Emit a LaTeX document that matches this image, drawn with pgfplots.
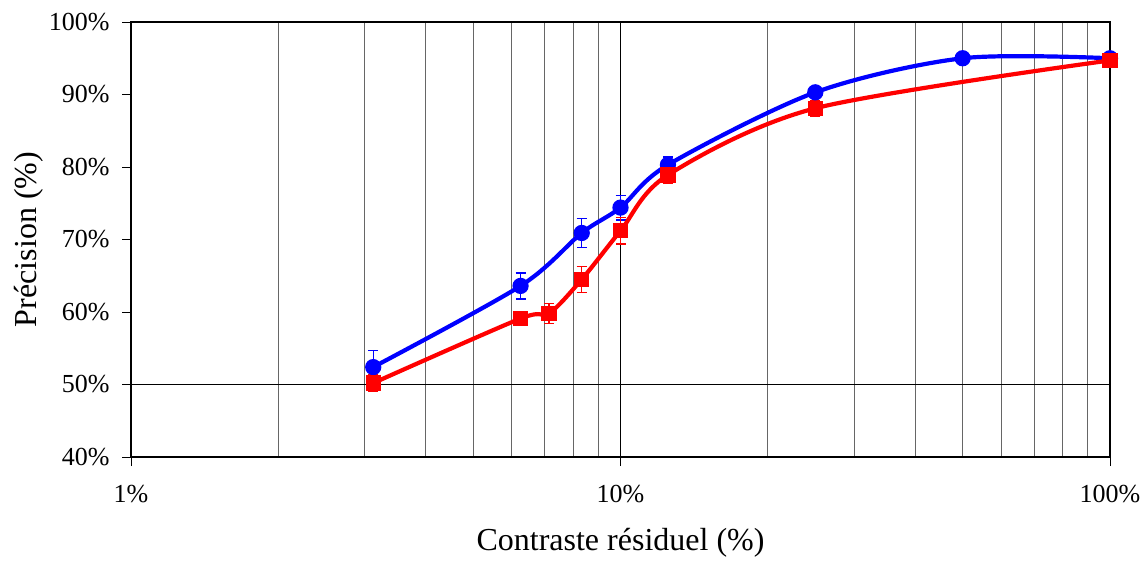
\documentclass[border=0pt]{standalone}
\usepackage{pgfplots}
\pgfplotsset{compat=1.18}
\usepackage{fontspec}
\setmainfont{Liberation Serif}
\begin{document}
\begin{tikzpicture}
\useasboundingbox (-131pt,-103pt) rectangle (1012pt,457pt);
\begin{axis}[
  at={(0,0)}, anchor=south west,
  scale only axis, width=979pt, height=435pt,
  xmode=log, xmin=1, xmax=100, ymin=40, ymax=100,
  xtick={1,10,100}, xticklabels={1\%,10\%,100\%},
  ytick={40,50,60,70,80,90,100},
  yticklabels={40\%,50\%,60\%,70\%,80\%,90\%,100\%},
  tick align=outside, major tick length=9pt, minor tick length=0pt,
  xtick pos=bottom, ytick pos=left,
  xmajorgrids, xminorgrids,
  major grid style={black, line width=0.9pt},
  minor grid style={gray!80!black, line width=0.9pt},
  axis line style={black, line width=1.2pt},
  tick style={black, line width=0.8pt},
  extra y ticks={50}, extra y tick labels={},
  extra y tick style={grid=major, major tick length=0pt},
  /pgf/number format/assume math mode=true,
  ticklabel style={font=\fontsize{26}{28}\selectfont},
  yticklabel style={xshift=-9pt},
  xticklabel style={yshift=-16pt},
  label style={font=\fontsize{32}{36}\selectfont},
  xlabel={Contraste résiduel (\%)},
  ylabel={Précision (\%)},
  xlabel style={at={(axis description cs:0.5,-0.198)}, anchor=center},
  ylabel style={at={(axis description cs:-0.104,0.5)}, anchor=center},
  clip=false,
]
\addplot[blue, line width=4.2pt, smooth, tension=0.5,
  mark=*, mark size=6pt, mark options={solid},
  error bars/.cd, y dir=both, y explicit,
  error bar style={blue, line width=1.3pt},
  error mark options={rotate=90, mark size=5pt, line width=1.3pt, blue}]
coordinates {
 (3.125,52.4) +- (0,2.3)
 (6.25,63.6) +- (0,1.8)
 (8.333,70.9) +- (0,2.0)
 (10,74.4) +- (0,1.7)
 (12.5,80.3) +- (0,1.1)
 (25,90.3) +- (0,0.4)
 (50,95.0) +- (0,0.3)
 (100,95.0) +- (0,0.2)
};
\addplot[red, line width=4.2pt, smooth, tension=0.5,
  mark=square*, mark size=5.5pt, mark options={solid},
  error bars/.cd, y dir=both, y explicit,
  error bar style={red, line width=1.3pt},
  error mark options={rotate=90, mark size=5pt, line width=1.3pt, red}]
coordinates {
 (3.125,50.2) +- (0,1.2)
 (6.25,59.1) +- (0,0.5)
 (7.143,59.8) +- (0,1.4)
 (8.333,64.5) +- (0,1.8)
 (10,71.2) +- (0,1.8)
 (12.5,78.9) +- (0,1.2)
 (25,88.1) +- (0,1.1)
 (100,94.7) +- (0,0.3)
};
\end{axis}
\end{tikzpicture}
\end{document}
